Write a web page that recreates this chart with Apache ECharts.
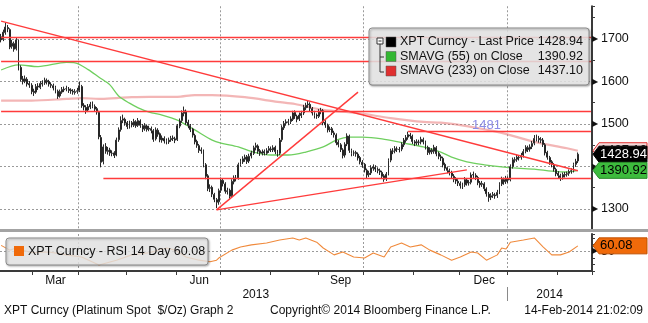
<!DOCTYPE html>
<html>
<head>
<meta charset="utf-8">
<script src="https://cdn.jsdelivr.net/npm/echarts@6/dist/echarts.min.js"></script>
<style>
html,body{margin:0;padding:0;background:#fff}
#chart{width:648px;height:323px}
</style>
</head>
<body>
<div id="chart"></div>
<script>
// Platinum spot, daily bars from 8-Feb-2013 to 14-Feb-2014 (weekdays)
const FIRST_DAY = '2013-02-08';
const AXIS_DAYS = 272;          // trading-day slots on the time axis (a few empty at the end)

// [open, close, low, high] per trading day
const ohlc = [
[1705,1698,1692,1712],[1699,1716,1695,1722],[1715,1728,1710,1738],[1727,1724,1716,1733],[1722,1681,1676,1725],
[1683,1690,1677,1698],[1689,1676,1670,1694],[1677,1698,1673,1704],[1695,1632,1626,1699],[1633,1605,1600,1638],
[1606,1600,1593,1613],[1601,1606,1596,1614],[1605,1594,1588,1610],[1595,1592,1585,1601],[1591,1576,1570,1596],
[1577,1574,1566,1583],[1575,1588,1571,1594],[1589,1587,1580,1596],[1586,1595,1582,1601],[1594,1596,1588,1603],
[1597,1603,1592,1609],[1602,1599,1593,1607],[1600,1594,1588,1604],[1593,1591,1585,1598],[1590,1585,1579,1595],
[1586,1578,1572,1590],[1577,1565,1559,1581],[1566,1576,1562,1581],[1575,1581,1571,1587],[1580,1582,1575,1588],
[1583,1583,1577,1590],[1582,1579,1573,1587],[1580,1578,1571,1584],[1577,1575,1569,1582],[1574,1576,1569,1582],
[1577,1578,1571,1585],[1579,1590,1575,1600],[1588,1543,1538,1592],[1544,1540,1532,1549],[1539,1532,1524,1544],
[1533,1541,1528,1547],[1540,1546,1535,1552],[1547,1542,1537,1553],[1541,1535,1530,1546],[1536,1528,1522,1540],
[1527,1470,1464,1531],[1468,1410,1398,1474],[1412,1446,1405,1452],[1447,1436,1430,1455],[1435,1438,1428,1446],
[1439,1432,1425,1444],[1431,1431,1424,1438],[1432,1426,1420,1436],[1427,1462,1424,1468],[1463,1486,1458,1492],
[1487,1508,1482,1518],[1509,1512,1502,1522],[1511,1502,1496,1515],[1503,1494,1488,1507],[1493,1502,1489,1508],
[1503,1498,1492,1507],[1497,1506,1493,1512],[1505,1496,1491,1509],[1497,1508,1493,1514],[1507,1497,1491,1511],
[1496,1488,1481,1500],[1489,1496,1484,1502],[1495,1487,1482,1499],[1488,1490,1483,1496],[1489,1485,1478,1494],
[1484,1464,1458,1488],[1465,1486,1461,1492],[1485,1476,1470,1490],[1477,1463,1457,1480],[1462,1467,1456,1473],
[1466,1460,1454,1471],[1461,1459,1452,1466],[1458,1462,1453,1468],[1463,1466,1458,1472],[1467,1466,1460,1473],
[1465,1462,1455,1470],[1463,1496,1460,1500],[1495,1507,1490,1513],[1508,1526,1503,1532],[1525,1531,1518,1541],
[1530,1503,1498,1534],[1504,1497,1490,1510],[1496,1487,1481,1500],[1488,1474,1468,1491],[1473,1458,1452,1477],
[1459,1450,1444,1463],[1449,1438,1432,1453],[1439,1437,1430,1445],[1436,1405,1398,1440],[1404,1377,1370,1408],
[1378,1348,1342,1382],[1349,1350,1340,1358],[1351,1335,1328,1355],[1334,1323,1316,1338],[1322,1316,1302,1326],
[1317,1343,1310,1348],[1344,1368,1338,1374],[1367,1360,1353,1372],[1359,1342,1336,1363],[1341,1343,1334,1350],
[1344,1330,1322,1348],[1331,1365,1327,1370],[1364,1373,1358,1379],[1372,1372,1365,1380],[1373,1404,1369,1409],
[1405,1412,1400,1418],[1411,1418,1406,1424],[1417,1422,1411,1428],[1423,1412,1406,1427],[1413,1424,1408,1430],
[1425,1432,1419,1437],[1431,1444,1427,1449],[1445,1449,1438,1456],[1448,1436,1430,1452],[1437,1432,1425,1441],
[1431,1434,1426,1440],[1435,1432,1426,1440],[1431,1437,1427,1443],[1438,1442,1432,1448],[1441,1440,1434,1447],
[1439,1444,1434,1450],[1445,1435,1429,1449],[1434,1430,1423,1439],[1431,1462,1427,1467],[1463,1492,1458,1497],
[1491,1501,1486,1507],[1502,1505,1496,1511],[1504,1505,1497,1512],[1506,1512,1500,1518],[1511,1526,1507,1531],
[1527,1519,1512,1532],[1518,1511,1504,1522],[1512,1521,1507,1527],[1520,1525,1514,1531],[1526,1539,1521,1545],
[1538,1544,1533,1550],[1545,1547,1538,1556],[1546,1537,1530,1551],[1536,1526,1520,1540],[1527,1520,1513,1531],
[1521,1519,1512,1525],[1518,1529,1514,1535],[1530,1532,1523,1538],[1531,1503,1497,1535],[1504,1498,1491,1509],
[1497,1486,1480,1501],[1487,1488,1481,1494],[1489,1480,1474,1493],[1479,1475,1468,1484],[1474,1456,1450,1478],
[1457,1452,1445,1462],[1451,1440,1434,1455],[1439,1426,1419,1443],[1427,1452,1421,1457],[1453,1472,1448,1478],
[1471,1438,1432,1475],[1437,1431,1424,1442],[1432,1432,1425,1438],[1433,1430,1423,1437],[1429,1420,1414,1433],
[1421,1411,1405,1425],[1410,1404,1397,1415],[1405,1392,1386,1408],[1391,1380,1373,1395],[1381,1384,1375,1390],
[1385,1397,1380,1403],[1396,1399,1390,1405],[1398,1394,1387,1403],[1393,1391,1384,1398],[1390,1387,1380,1395],
[1386,1377,1371,1390],[1378,1370,1364,1382],[1371,1382,1366,1387],[1383,1414,1379,1419],[1415,1437,1410,1442],
[1436,1436,1429,1443],[1437,1442,1431,1448],[1441,1441,1434,1447],[1440,1440,1433,1446],[1441,1452,1436,1457],
[1451,1462,1446,1467],[1461,1468,1456,1474],[1469,1475,1463,1482],[1474,1472,1465,1479],[1471,1459,1453,1475],
[1458,1455,1448,1462],[1456,1458,1450,1464],[1457,1457,1450,1463],[1458,1464,1452,1470],[1463,1458,1452,1468],
[1457,1446,1440,1461],[1445,1433,1427,1449],[1434,1439,1428,1445],[1438,1435,1429,1443],[1436,1445,1430,1451],
[1444,1430,1424,1448],[1431,1424,1417,1435],[1423,1420,1413,1428],[1419,1404,1398,1423],[1405,1396,1390,1409],
[1397,1391,1384,1400],[1390,1386,1379,1395],[1385,1378,1372,1390],[1377,1370,1363,1382],[1371,1366,1359,1375],
[1365,1361,1354,1370],[1360,1355,1348,1365],[1354,1356,1347,1362],[1357,1369,1352,1375],[1368,1361,1355,1373],
[1362,1362,1355,1368],[1363,1380,1358,1386],[1381,1380,1373,1388],[1379,1375,1368,1384],[1374,1362,1356,1378],
[1361,1357,1350,1366],[1358,1360,1352,1366],[1359,1348,1342,1363],[1347,1336,1329,1351],[1335,1327,1317,1340],
[1328,1331,1321,1337],[1332,1334,1326,1340],[1333,1331,1324,1338],[1332,1339,1326,1345],[1340,1358,1335,1363],
[1359,1370,1354,1376],[1369,1364,1357,1374],[1365,1372,1359,1378],[1371,1368,1361,1377],[1369,1399,1365,1405],
[1400,1416,1395,1421],[1415,1416,1409,1422],[1417,1422,1411,1428],[1421,1421,1414,1427],[1422,1426,1416,1432],
[1427,1435,1421,1441],[1436,1445,1431,1450],[1444,1440,1434,1449],[1441,1446,1435,1452],[1447,1454,1441,1460],
[1455,1466,1450,1474],[1465,1467,1459,1475],[1466,1463,1456,1472],[1462,1463,1455,1469],[1462,1452,1446,1467],
[1451,1432,1426,1455],[1433,1422,1416,1437],[1421,1410,1404,1425],[1411,1405,1398,1415],[1404,1394,1388,1408],
[1393,1383,1377,1397],[1384,1379,1372,1389],[1378,1374,1366,1383],[1375,1381,1369,1386],[1380,1381,1374,1387],
[1382,1383,1376,1388],[1384,1388,1378,1393],[1389,1390,1383,1396],[1391,1404,1386,1409],[1405,1412,1399,1418],
[1413,1428.94,1408,1433]
];

// moving averages and RSI: [trading-day index, value]
const sma55 = [
[0,1627],[8,1639],[17,1635],[30,1645],[34,1644],[40,1628],[45,1610],[50,1592],[54,1566],[59,1549],
[63,1538],[68,1528],[74,1521],[81,1509],[89,1486],[97,1462],[101,1455],[109,1446],[116,1434],[124,1427],
[132,1427],[140,1434],[148,1446],[154,1462],[160,1469],[166,1469],[175,1465],[185,1455],[194,1446],[202,1434],
[207,1422],[214,1411],[222,1404],[230,1399],[237,1396],[245,1394],[253,1389],[260,1387],[265,1390.92]
];
const sma233 = [
[0,1555],[14,1555],[30,1559],[37,1561],[45,1559],[53,1561],[60,1563],[68,1564],[81,1564],[89,1568],
[97,1568],[112,1563],[127,1552],[135,1547],[148,1533],[163,1526],[179,1514],[194,1505],[202,1503],[214,1495],
[230,1479],[245,1458],[260,1443],[265,1437.10]
];
const rsi14 = [
[0,61],[4,52],[7,56],[14,47],[22,48.5],[30,43],[37,39],[45,24],[53,33],[60,43],
[68,47],[76,56],[80,52],[85,39],[91,33],[96,30],[99,33],[100,37],[106,52],[110,58],
[115,62],[122,65.5],[128,71],[134,75],[137,71],[140,75],[145,67],[148,56],[153,43],[157,48.5],
[162,39],[167,37],[171,46.5],[176,39],[179,58],[184,65.5],[188,58],[193,62],[197,52],[202,43],
[207,33],[211,39],[216,48.5],[219,46.5],[223,33],[228,43],[230,56],[232,54],[234,67],[240,71],
[245,75],[249,58],[253,43],[257,43],[261,48.5],[265,60.08]
];

// drawn trend lines: [[day, price], [day, price]]
const trendLines = [
[[0,1742],[265,1390]],
[[99,1298],[164,1575]],
[[99,1298],[214,1392]]
];
// horizontal support / resistance levels: [from day, price]
const levels = [[0,1705],[0,1648],[0,1531],[47,1372],[187,1482]];
const LEVEL_LABEL = '1481';

const MONTH_NAMES = ['Jan','Feb','Mar','Apr','May','Jun','Jul','Aug','Sep','Oct','Nov','Dec'];
const LABEL_MONTHS = ['Mar','Jun','Sep','Dec'];
const FOOTER_LEFT = 'XPT Curncy (Platinum Spot  $/Oz) Graph 2';
const FOOTER_MID = 'Copyright\u00a9 2014 Bloomberg Finance L.P.';
const FOOTER_RIGHT = '14-Feb-2014 21:02:09';

// ---- calendar of weekdays ----
const days = [];
{
  let t = Date.parse(FIRST_DAY + 'T00:00:00Z');
  while (days.length < AXIS_DAYS) {
    const d = new Date(t);
    const wd = d.getUTCDay();
    if (wd !== 0 && wd !== 6) days.push(d.toISOString().slice(0, 10));
    t += 86400000;
  }
}
const monthOf = s => +s.slice(5, 7);
const yearOf = s => s.slice(0, 4);
const monthStarts = new Set(), quarterStarts = new Set(), monthMid = new Map();
{
  let first = 0;
  for (let i = 1; i <= days.length; i++) {
    if (i === days.length || monthOf(days[i]) !== monthOf(days[i - 1])) {
      monthMid.set(Math.round((first + i - 1) / 2), MONTH_NAMES[monthOf(days[first]) - 1]);
      if (i < days.length) {
        monthStarts.add(i);
        if ([1, 4, 7, 10].includes(monthOf(days[i]))) quarterStarts.add(i);
      }
      first = i;
    }
  }
}
const yearBreak = days.findIndex((d, i) => i > 0 && yearOf(d) !== yearOf(days[i - 1]));
const yearMid = new Map([[Math.round(yearBreak / 2), yearOf(days[0])],
                         [Math.round((yearBreak + days.length - 1) / 2), yearOf(days[days.length - 1])]]);

const toCat = pairs => pairs.map(([i, v]) => [days[i], v]);
const last = ohlc.length - 1;
const lastClose = ohlc[last][1];
const lastSma55 = sma55[sma55.length - 1][1];
const lastSma233 = sma233[sma233.length - 1][1];
const lastRsi = rsi14[rsi14.length - 1][1];

const FONT = '"Liberation Sans", Arial, sans-serif';
const RED = '#ff3b3b';
const dotted = { type: [2, 2], color: '#9a9a9a', width: 1 };

const chart = echarts.init(document.getElementById('chart'), null, { renderer: 'canvas' });

const markLineData = [];
trendLines.forEach(([a, b]) => markLineData.push([{ coord: [days[a[0]], a[1]] }, { coord: [days[b[0]], b[1]] }]));
levels.forEach(([from, p]) => {
  const item = [{ coord: [days[from], p] }, { coord: [days[AXIS_DAYS - 1], p] }];
  if (from === 187) {
    item[0].label = { show: true, formatter: LEVEL_LABEL, position: 'insideStartTop', distance: [64, 0],
      color: '#8c8ce6', fontSize: 13, fontFamily: FONT };
  }
  markLineData.push(item);
});

const splitColors = (n, on) => Array.from({ length: n }, (_, k) => on.includes(k) ? '#9a9a9a' : 'rgba(0,0,0,0)');

chart.setOption({
  animation: false,
  backgroundColor: '#fff',
  textStyle: { fontFamily: FONT },
  grid: [
    { left: 0, right: 56, top: 6.25, height: 224 },
    { left: 0, right: 56, top: 234, height: 37 }
  ],
  xAxis: [
    { type: 'category', gridIndex: 0, data: days,
      axisLine: { show: false }, axisTick: { show: false }, axisLabel: { show: false },
      splitLine: { show: true, interval: i => quarterStarts.has(i), lineStyle: dotted } },
    { type: 'category', gridIndex: 1, data: days,
      axisLine: { show: true, lineStyle: { color: '#3a3a3a', width: 2 } },
      axisTick: { show: true, length: 4, interval: i => monthStarts.has(i), lineStyle: { color: '#3a3a3a' } },
      axisLabel: { show: true, interval: i => monthMid.has(i) && LABEL_MONTHS.includes(monthMid.get(i)),
        formatter: (v, i) => monthMid.get(i) || '', color: '#111', fontSize: 12, margin: 4, fontFamily: FONT },
      splitLine: { show: true, interval: i => quarterStarts.has(i), lineStyle: dotted } },
    { type: 'category', gridIndex: 1, data: days, position: 'bottom', offset: 15,
      axisLine: { show: false }, axisTick: { show: false },
      axisLabel: { show: true, interval: i => yearMid.has(i), formatter: (v, i) => yearMid.get(i) || '',
        color: '#111', fontSize: 12, margin: 3, fontFamily: FONT },
      splitLine: { show: false } }
  ],
  yAxis: [
    { type: 'value', gridIndex: 0, position: 'right', min: 1250, max: 1777, interval: 50, scale: true,
      axisLine: { show: true, lineStyle: { color: '#3a3a3a', width: 2 } },
      axisTick: { show: true, length: 3, lineStyle: { color: '#3a3a3a' } },
      axisLabel: { show: true, margin: 0, formatter: v => v % 100 === 0 ? '{a|\u25B6}{b|' + v + '}' : '',
        rich: { a: { fontSize: 8, color: '#111', padding: [0, 3, 0, 0] },
                b: { fontSize: 12.5, color: '#111', fontFamily: FONT } } },
      splitLine: { show: true, lineStyle: { type: [2, 2], width: 1, color: splitColors(11, [1, 3, 5, 7, 9]) } } },
    { type: 'value', gridIndex: 1, position: 'right', min: 12.5, max: 82.5, interval: 12.5,
      axisLine: { show: true, lineStyle: { color: '#3a3a3a', width: 2 } },
      axisTick: { show: true, length: 3, lineStyle: { color: '#3a3a3a' } },
      axisLabel: { show: true, margin: 0, formatter: v => v === 50 ? '{a|\u25B6}{b|' + v + '}' : '',
        rich: { a: { fontSize: 8, color: '#111', padding: [0, 3, 0, 0] },
                b: { fontSize: 12.5, color: '#111', fontFamily: FONT } } },
      splitLine: { show: true, lineStyle: { type: [2, 2], width: 1, color: splitColors(7, [3]) } } }
  ],
  series: [
    { name: 'SMAVG (233) on Close', type: 'line', xAxisIndex: 0, yAxisIndex: 0, data: toCat(sma233),
      showSymbol: false, smooth: 0.3, lineStyle: { color: 'rgba(232,110,110,0.5)', width: 2.2 }, z: 2 },
    { name: 'SMAVG (55) on Close', type: 'line', xAxisIndex: 0, yAxisIndex: 0, data: toCat(sma55),
      showSymbol: false, smooth: 0.3, lineStyle: { color: '#6fcf5f', width: 1.3 }, z: 2 },
    { name: 'XPT Curncy - Last Price', type: 'candlestick', xAxisIndex: 0, yAxisIndex: 0,
      data: ohlc.map(r => [r[0], r[1], r[2], r[3]]), barWidth: 1.4, z: 3,
      itemStyle: { color: '#a0a0a0', color0: '#262626', borderColor: '#2a2a2a', borderColor0: '#262626', borderWidth: 1 },
      markLine: { silent: true, symbol: ['none', 'none'], animation: false,
        label: { show: false }, lineStyle: { color: RED, width: 1.4, type: 'solid' },
        emphasis: { disabled: true }, data: markLineData } },
    { name: 'XPT Curncy - RSI 14 Day', type: 'line', xAxisIndex: 1, yAxisIndex: 1, data: toCat(rsi14),
      showSymbol: false, lineStyle: { color: '#f08a3c', width: 1.1 } }
  ]
});

// price tags on the right axis, positioned from the series' last values
function tag(yPix, fill, stroke, textColor, text) {
  const h = 8;
  return [
    { type: 'polygon', z: 100, shape: { points: [[593, yPix], [599, yPix - h], [647, yPix - h], [647, yPix + h], [599, yPix + h]] },
      style: { fill, stroke, lineWidth: 1 } },
    { type: 'text', z: 101, x: 600, y: yPix, style: { text, fill: textColor, font: '13px ' + FONT, textVerticalAlign: 'middle' } }
  ];
}
const yOf = v => chart.convertToPixel({ yAxisIndex: 0 }, v);
const yRsi = v => chart.convertToPixel({ yAxisIndex: 1 }, v);
// boundary between the last day of one year and the first day of the next
const xYearBreak = (chart.convertToPixel({ xAxisIndex: 1 }, days[yearBreak - 1]) +
                    chart.convertToPixel({ xAxisIndex: 1 }, days[yearBreak])) / 2;

const legendRows = [
  ['#000000', 'XPT Curncy - Last Price', lastClose.toFixed(2)],
  ['#33b833', 'SMAVG (55) on Close', lastSma55.toFixed(2)],
  ['#e03030', 'SMAVG (233) on Close', lastSma233.toFixed(2)]
];
const legendEls = [
  { type: 'rect', z: 50, shape: { x: 369, y: 28, width: 220, height: 57, r: 3 },
    style: { fill: 'rgba(238,238,238,0.82)', stroke: '#8a8a8a', lineWidth: 1, shadowBlur: 2, shadowOffsetX: 1, shadowOffsetY: 1, shadowColor: 'rgba(0,0,0,0.35)' } },
  { type: 'rect', z: 51, shape: { x: 377, y: 38, width: 6, height: 6 }, style: { fill: '#fff', stroke: '#333', lineWidth: 1 } },
  { type: 'line', z: 51, shape: { x1: 378.5, y1: 41, x2: 381.5, y2: 41 }, style: { stroke: '#333', lineWidth: 1 } },
  { type: 'polyline', z: 51, shape: { points: [[380, 44], [380, 72], [384, 72]] }, style: { stroke: '#333', lineWidth: 1, fill: null } },
  { type: 'line', z: 51, shape: { x1: 380, y1: 57, x2: 384, y2: 57 }, style: { stroke: '#333', lineWidth: 1 } }
];
legendRows.forEach(([c, name, val], k) => {
  const cy = 42 + k * 14.5;
  legendEls.push(
    { type: 'rect', z: 51, shape: { x: 386, y: cy - 5, width: 10, height: 10 }, style: { fill: c, stroke: '#555', lineWidth: 0.5 } },
    { type: 'text', z: 51, x: 400, y: cy, style: { text: name, fill: '#111', font: '12.5px ' + FONT, textVerticalAlign: 'middle' } },
    { type: 'text', z: 51, x: 583, y: cy, style: { text: val, fill: '#111', font: '12.5px ' + FONT, textAlign: 'right', textVerticalAlign: 'middle' } }
  );
});

const graphics = [
  { type: 'rect', z: 40, shape: { x: 0, y: 229, width: 648, height: 3 }, style: { fill: '#a3a3a3' } },
  ...legendEls,
  { type: 'rect', z: 50, shape: { x: 6, y: 238, width: 202, height: 27, r: 3 },
    style: { fill: 'rgba(238,238,238,0.78)', stroke: '#8a8a8a', lineWidth: 1, shadowBlur: 2, shadowOffsetX: 1, shadowOffsetY: 1, shadowColor: 'rgba(0,0,0,0.3)' } },
  { type: 'rect', z: 51, shape: { x: 14, y: 246, width: 10, height: 10 }, style: { fill: '#f06a0a' } },
  { type: 'text', z: 51, x: 28, y: 251.5, style: { text: 'XPT Curncy - RSI 14 Day ' + lastRsi.toFixed(2), fill: '#111', font: '12.5px ' + FONT, textVerticalAlign: 'middle' } },
  ...tag(yOf(lastSma233), '#f4dada', '#e03030', '#111', lastSma233.toFixed(2)),
  ...tag(yOf(lastClose), '#000', '#000', '#fff', lastClose.toFixed(2)),
  ...tag(yOf(lastSma55), '#3dbb3d', '#2a8a2a', '#000', lastSma55.toFixed(2)),
  ...tag(yRsi(lastRsi), '#f06a0a', '#c05000', '#000', lastRsi.toFixed(2)),
  { type: 'line', z: 60, shape: { x1: Math.round(xYearBreak) + 0.5, y1: 287, x2: Math.round(xYearBreak) + 0.5, y2: 301 },
    style: { stroke: '#8a8a8a', lineWidth: 1 } },
  { type: 'text', z: 60, x: 4, y: 311, style: { text: FOOTER_LEFT, fill: '#111', font: '12px ' + FONT, textVerticalAlign: 'middle' } },
  { type: 'text', z: 60, x: 270, y: 311, style: { text: FOOTER_MID, fill: '#111', font: '12px ' + FONT, textVerticalAlign: 'middle' } },
  { type: 'text', z: 60, x: 643, y: 311, style: { text: FOOTER_RIGHT, fill: '#111', font: '12px ' + FONT, textAlign: 'right', textVerticalAlign: 'middle' } }
];
chart.setOption({ graphic: graphics });
</script>
</body>
</html>
